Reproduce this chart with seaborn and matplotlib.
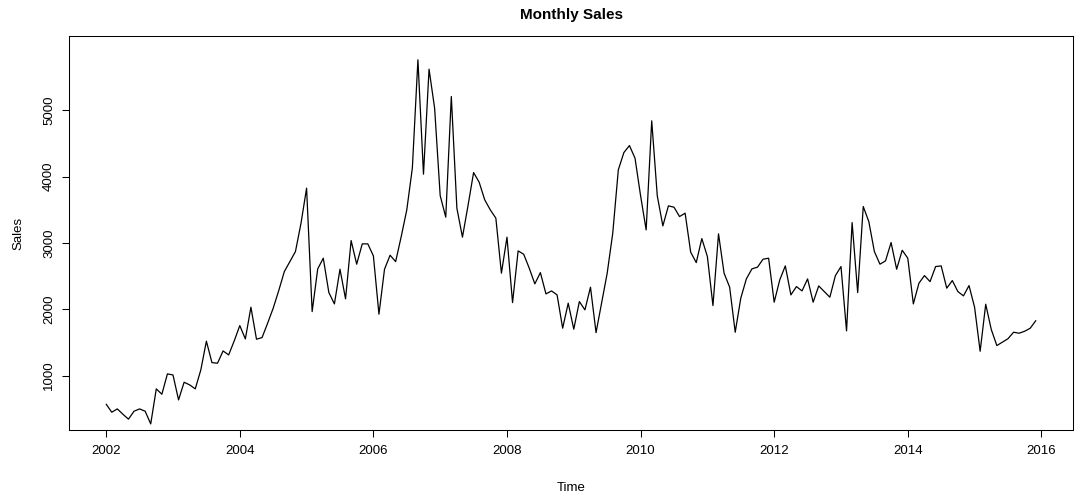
import numpy as np
import pandas as pd
import matplotlib
matplotlib.use('Agg')
import matplotlib.pyplot as plt
import seaborn as sns

sns.set_style('ticks')
plt.rcParams['font.family'] = ['Liberation Sans', 'DejaVu Sans']
plt.rcParams['text.color'] = 'black'
plt.rcParams['axes.labelcolor'] = 'black'

# Monthly sales, Jan 2002 .. Dec 2015
start_year = 2002
sales_2002 = [569, 448, 498, 418, 343, 463, 498, 463, 272, 800, 719, 1026]
sales_2003 = [1010, 634, 900, 860, 800, 1086, 1519, 1196, 1187, 1372, 1312, 1523]
sales_2004 = [1754, 1553, 2031, 1549, 1573, 1790, 2016, 2282, 2568, 2719, 2870, 3298]
sales_2005 = [3826, 1965, 2609, 2770, 2252, 2081, 2604, 2157, 3036, 2680, 2986, 2986]
sales_2006 = [2805, 1926, 2604, 2815, 2719, 3096, 3499, 4128, 5761, 4037, 5620, 5032]
sales_2007 = [3714, 3389, 5207, 3524, 3087, 3564, 4061, 3916, 3650, 3499, 3374, 2544]
sales_2008 = [3087, 2101, 2880, 2830, 2620, 2383, 2553, 2232, 2277, 2217, 1715, 2092]
sales_2009 = [1700, 2116, 1991, 2333, 1648, 2092, 2544, 3147, 4102, 4363, 4468, 4278]
sales_2010 = [3712, 3197, 4841, 3710, 3257, 3559, 3539, 3398, 3449, 2861, 2704, 3066]
sales_2011 = [2795, 2056, 3137, 2544, 2333, 1654, 2167, 2458, 2609, 2635, 2755, 2770]
sales_2012 = [2107, 2443, 2654, 2217, 2342, 2277, 2458, 2107, 2352, 2267, 2182, 2508]
sales_2013 = [2644, 1674, 3307, 2252, 3549, 3322, 2870, 2680, 2730, 3006, 2604, 2890]
sales_2014 = [2770, 2081, 2393, 2508, 2417, 2644, 2654, 2318, 2433, 2267, 2202, 2357]
sales_2015 = [2031, 1367, 2076, 1695, 1453, 1505, 1556, 1654, 1639, 1669, 1715, 1829]

x_ticks = [2002, 2004, 2006, 2008, 2010, 2012, 2014, 2016]
y_ticks = [1000, 2000, 3000, 4000, 5000]

sales = (sales_2002 + sales_2003 + sales_2004 + sales_2005 + sales_2006 +
         sales_2007 + sales_2008 + sales_2009 + sales_2010 + sales_2011 +
         sales_2012 + sales_2013 + sales_2014 + sales_2015)
df = pd.DataFrame({'Time': start_year + np.arange(len(sales)) / 12,
                   'Sales': sales})

fig = plt.figure(figsize=(10.76, 5.04), dpi=100)
ax = fig.add_axes([69 / 1076, 1 - 430 / 504, 1004 / 1076, 394 / 504])

sns.lineplot(data=df, x='Time', y='Sales', color='black', linewidth=0.9, ax=ax)

# 4% padding on x like R; y range as seen in the reference
tr = df['Time'].max() - df['Time'].min()
ax.set_xlim(df['Time'].min() - 0.04 * tr, df['Time'].max() + 0.04 * tr)
ax.set_ylim(180, 6120)

ax.set_xticks(x_ticks)
ax.set_yticks(y_ticks)
ax.set_yticklabels([str(v) for v in y_ticks], rotation=90, va='center')
ax.tick_params(axis='both', direction='out', length=5, width=0.75,
               color='black', labelsize=9.5, labelcolor='black')
ax.tick_params(axis='x', pad=6)
ax.tick_params(axis='y', pad=5)

for s in ax.spines.values():
    s.set_visible(True)
    s.set_color('black')
    s.set_linewidth(0.75)

ax.set_xlabel('Time', fontsize=9.5, color='black')
ax.set_ylabel('Sales', fontsize=9.5, color='black')
ax.xaxis.set_label_coords(0.5, -0.133)
ax.yaxis.set_label_coords(-0.044, 0.5)
ax.set_title('Monthly Sales', fontsize=11, fontweight='bold', pad=12, color='black')

fig.savefig('out.png', dpi=100, facecolor='white')
